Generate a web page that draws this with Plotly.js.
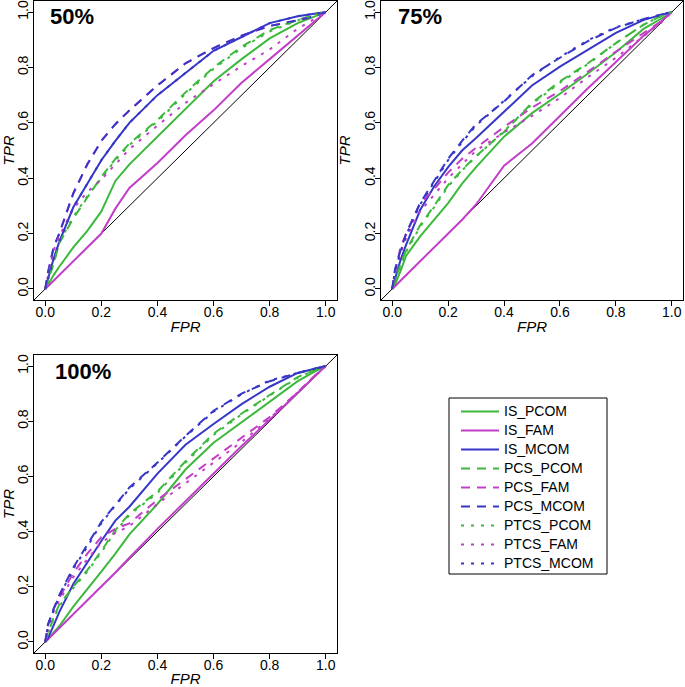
<!DOCTYPE html>
<html>
<head>
<meta charset="utf-8">
<script src="https://cdn.plot.ly/plotly-3.0.1.min.js"></script>
<style>
html,body{margin:0;padding:0;background:#fff;}
#chart{width:685px;height:687px;}
</style>
</head>
<body>
<div id="chart"></div>
<script>
// ---------- data ----------
const fpr = [0, 0.01, 0.03, 0.05, 0.1, 0.15, 0.2, 0.25, 0.3, 0.4, 0.5, 0.6, 0.7, 0.8, 0.9, 0.96, 1];
const refLine = [-0.04, 1.04];

const seriesNames = ['IS_PCOM','IS_FAM','IS_MCOM','PCS_PCOM','PCS_FAM','PCS_MCOM','PTCS_PCOM','PTCS_FAM','PTCS_MCOM'];
const panelLabels = ['50%', '75%', '100%'];
const tickVals = [0, 0.2, 0.4, 0.6, 0.8, 1.0];
const tickText = ['0.0', '0.2', '0.4', '0.6', '0.8', '1.0'];

// 50%
const tpr50_IS_PCOM   = [0, 0.015, 0.05, 0.08, 0.15, 0.21, 0.28, 0.39, 0.45, 0.55, 0.65, 0.75, 0.83, 0.905, 0.96, 0.985, 1];
const tpr50_IS_FAM    = [0, 0.01, 0.03, 0.05, 0.1, 0.15, 0.2, 0.29, 0.365, 0.455, 0.555, 0.645, 0.745, 0.83, 0.915, 0.965, 1];
const tpr50_IS_MCOM   = [0, 0.04, 0.11, 0.17, 0.295, 0.38, 0.465, 0.535, 0.60, 0.70, 0.78, 0.86, 0.91, 0.96, 0.985, 0.995, 1];
const tpr50_PCS_PCOM  = [0, 0.03, 0.09, 0.165, 0.255, 0.33, 0.405, 0.47, 0.525, 0.61, 0.71, 0.80, 0.875, 0.935, 0.972, 0.99, 1];
const tpr50_PCS_FAM   = [0, 0.06, 0.15, 0.20, 0.345, 0.45, 0.535, 0.595, 0.645, 0.735, 0.815, 0.87, 0.915, 0.95, 0.97, 0.985, 1];
const tpr50_PCS_MCOM  = [0, 0.06, 0.15, 0.20, 0.345, 0.45, 0.535, 0.595, 0.645, 0.735, 0.815, 0.87, 0.915, 0.95, 0.97, 0.985, 1];
const tpr50_PTCS_PCOM = [0, 0.035, 0.095, 0.17, 0.26, 0.335, 0.40, 0.465, 0.52, 0.605, 0.705, 0.795, 0.87, 0.93, 0.97, 0.99, 1];
const tpr50_PTCS_FAM  = [0, 0.05, 0.14, 0.19, 0.29, 0.35, 0.395, 0.45, 0.505, 0.59, 0.672, 0.74, 0.805, 0.865, 0.94, 0.975, 1];
const tpr50_PTCS_MCOM = [0, 0.04, 0.11, 0.17, 0.295, 0.38, 0.465, 0.535, 0.60, 0.70, 0.78, 0.86, 0.91, 0.96, 0.985, 0.995, 1];

// 75%
const tpr75_IS_PCOM   = [0, 0.015, 0.065, 0.12, 0.19, 0.25, 0.31, 0.38, 0.44, 0.55, 0.635, 0.705, 0.778, 0.855, 0.94, 0.975, 1];
const tpr75_IS_FAM    = [0, 0.01, 0.03, 0.05, 0.1, 0.15, 0.2, 0.25, 0.305, 0.445, 0.525, 0.625, 0.725, 0.82, 0.915, 0.965, 1];
const tpr75_IS_MCOM   = [0, 0.035, 0.105, 0.16, 0.285, 0.37, 0.44, 0.50, 0.545, 0.64, 0.735, 0.803, 0.865, 0.925, 0.972, 0.99, 1];
const tpr75_PCS_PCOM  = [0, 0.03, 0.09, 0.14, 0.23, 0.30, 0.375, 0.43, 0.48, 0.567, 0.672, 0.75, 0.815, 0.888, 0.955, 0.985, 1];
const tpr75_PCS_FAM   = [0, 0.06, 0.15, 0.20, 0.31, 0.36, 0.42, 0.47, 0.51, 0.585, 0.655, 0.715, 0.785, 0.857, 0.925, 0.965, 1];
const tpr75_PCS_MCOM  = [0, 0.07, 0.14, 0.20, 0.31, 0.39, 0.47, 0.535, 0.595, 0.677, 0.772, 0.835, 0.895, 0.943, 0.975, 0.99, 1];
const tpr75_PTCS_PCOM = [0, 0.028, 0.085, 0.135, 0.225, 0.295, 0.37, 0.428, 0.478, 0.57, 0.668, 0.745, 0.812, 0.888, 0.955, 0.985, 1];
const tpr75_PTCS_FAM  = [0, 0.05, 0.13, 0.185, 0.28, 0.34, 0.40, 0.45, 0.50, 0.565, 0.625, 0.69, 0.765, 0.835, 0.915, 0.96, 1];
const tpr75_PTCS_MCOM = [0, 0.065, 0.135, 0.195, 0.305, 0.385, 0.465, 0.53, 0.59, 0.68, 0.768, 0.838, 0.898, 0.945, 0.975, 0.99, 1];

// 100%
const tpr100_IS_PCOM   = [0, 0.01, 0.035, 0.057, 0.128, 0.19, 0.255, 0.32, 0.39, 0.50, 0.625, 0.722, 0.796, 0.87, 0.945, 0.98, 1];
const tpr100_IS_FAM    = [0, 0.01, 0.03, 0.05, 0.1, 0.15, 0.2, 0.252, 0.305, 0.41, 0.51, 0.61, 0.71, 0.805, 0.905, 0.962, 1];
const tpr100_IS_MCOM   = [0, 0.014, 0.06, 0.108, 0.21, 0.29, 0.366, 0.44, 0.49, 0.61, 0.715, 0.79, 0.862, 0.925, 0.975, 0.99, 1];
const tpr100_PCS_PCOM  = [0, 0.03, 0.09, 0.135, 0.20, 0.26, 0.33, 0.405, 0.465, 0.545, 0.655, 0.755, 0.828, 0.895, 0.96, 0.985, 1];
const tpr100_PCS_FAM   = [0, 0.06, 0.12, 0.16, 0.25, 0.32, 0.38, 0.41, 0.43, 0.515, 0.59, 0.665, 0.74, 0.815, 0.905, 0.965, 1];
const tpr100_PCS_MCOM  = [0, 0.065, 0.12, 0.17, 0.27, 0.35, 0.435, 0.497, 0.56, 0.65, 0.747, 0.838, 0.90, 0.945, 0.975, 0.99, 1];
const tpr100_PTCS_PCOM = [0, 0.028, 0.085, 0.13, 0.195, 0.255, 0.325, 0.40, 0.46, 0.54, 0.65, 0.75, 0.825, 0.893, 0.958, 0.985, 1];
const tpr100_PTCS_FAM  = [0, 0.05, 0.11, 0.15, 0.235, 0.30, 0.36, 0.395, 0.42, 0.50, 0.575, 0.65, 0.725, 0.81, 0.905, 0.965, 1];
const tpr100_PTCS_MCOM = [0, 0.06, 0.115, 0.165, 0.265, 0.345, 0.43, 0.495, 0.555, 0.648, 0.745, 0.835, 0.898, 0.948, 0.975, 0.99, 1];

const panels = [
  [tpr50_IS_PCOM, tpr50_IS_FAM, tpr50_IS_MCOM, tpr50_PCS_PCOM, tpr50_PCS_FAM, tpr50_PCS_MCOM, tpr50_PTCS_PCOM, tpr50_PTCS_FAM, tpr50_PTCS_MCOM],
  [tpr75_IS_PCOM, tpr75_IS_FAM, tpr75_IS_MCOM, tpr75_PCS_PCOM, tpr75_PCS_FAM, tpr75_PCS_MCOM, tpr75_PTCS_PCOM, tpr75_PTCS_FAM, tpr75_PTCS_MCOM],
  [tpr100_IS_PCOM, tpr100_IS_FAM, tpr100_IS_MCOM, tpr100_PCS_PCOM, tpr100_PCS_FAM, tpr100_PCS_MCOM, tpr100_PTCS_PCOM, tpr100_PTCS_FAM, tpr100_PTCS_MCOM]
];

// ---------- styles ----------
const FONT = 'Liberation Sans, Arial, Helvetica, sans-serif';
const GREEN = '#3cb83c', MAGENTA = '#c23ec8', BLUE = '#3636c8';
const colors = [GREEN, MAGENTA, BLUE, GREEN, MAGENTA, BLUE, GREEN, MAGENTA, BLUE];
const dashes = ['solid','solid','solid','9px,7px','9px,7px','9px,7px','3px,7px','3px,7px','3px,7px'];

const axSuffix = [['x','y'], ['x2','y2'], ['x3','y3']];

const traces = [];
panels.forEach((series, p) => {
  const [xa, ya] = axSuffix[p];
  traces.push({
    x: refLine, y: refLine, xaxis: xa, yaxis: ya, mode: 'lines',
    line: {color: '#000', width: 1}, showlegend: false, hoverinfo: 'skip'
  });
  series.forEach((tpr, i) => {
    traces.push({
      x: fpr, y: tpr, xaxis: xa, yaxis: ya, mode: 'lines',
      name: '<span style="font-size:14px">' + seriesNames[i] + '</span>',
      legendgroup: seriesNames[i],
      showlegend: p === 0,
      line: {color: colors[i], width: 2, dash: dashes[i]}
    });
  });
});

function axis(domain, anchor, letter, titleText) {
  const a = {
    domain: domain, anchor: anchor, range: [-0.04, 1.04],
    tickvals: tickVals, ticktext: tickText,
    ticks: 'outside', ticklen: 5, tickwidth: 1, tickcolor: '#000',
    ticklabelstandoff: -6,
    showline: true, mirror: true, linecolor: '#000', linewidth: 1,
    showgrid: false, zeroline: false, fixedrange: true,
    tickfont: {family: FONT, size: 14, color: '#000'},
    title: {text: titleText, standoff: letter === 'y' ? 8 : 2,
            font: {family: FONT, size: 15, color: '#000', style: 'italic'}}
  };
  if (letter === 'y') a.tickangle = -90;
  return a;
}

const W = 685, H = 687;
const px = v => v / W, py = v => 1 - v / H;

const layout = {
  width: W, height: H,
  margin: {l: 0, r: 0, t: 0, b: 0},
  paper_bgcolor: '#fff', plot_bgcolor: '#fff',
  font: {family: FONT, color: '#000'},
  xaxis:  axis([px(34), px(337)], 'y', 'x', 'FPR'),
  yaxis:  axis([py(300), py(1)], 'x', 'y', 'TPR'),
  xaxis2: axis([px(381), px(683)], 'y2', 'x', 'FPR'),
  yaxis2: axis([py(300), py(1)], 'x2', 'y', 'TPR'),
  xaxis3: axis([px(34), px(337)], 'y3', 'x', 'FPR'),
  yaxis3: axis([py(653), py(355)], 'x3', 'y', 'TPR'),
  showlegend: true,
  legend: {
    x: px(456), y: py(397), xanchor: 'left', yanchor: 'top',
    bgcolor: 'rgba(0,0,0,0)', borderwidth: 0,
    font: {family: FONT, size: 11.1, color: '#000'},
    itemwidth: 38, traceorder: 'normal'
  },
  shapes: [{
    type: 'rect', xref: 'paper', yref: 'paper',
    x0: px(449), x1: px(607), y0: py(574), y1: py(398),
    line: {color: '#000', width: 1}, fillcolor: 'rgba(0,0,0,0)'
  }],
  annotations: [
    {xref: 'x',  yref: 'y',  x: 0.01,  y: 0.983, text: '<b>' + panelLabels[0] + '</b>'},
    {xref: 'x2', yref: 'y2', x: 0.012, y: 0.983, text: '<b>' + panelLabels[1] + '</b>'},
    {xref: 'x3', yref: 'y3', x: 0.027, y: 0.979, text: '<b>' + panelLabels[2] + '</b>'}
  ].map(a => Object.assign(a, {xanchor: 'left', yanchor: 'middle', showarrow: false,
      font: {family: FONT, size: 22, color: '#000'}}))
};

Plotly.newPlot('chart', traces, layout, {displayModeBar: false, staticPlot: true});
</script>
</body>
</html>
